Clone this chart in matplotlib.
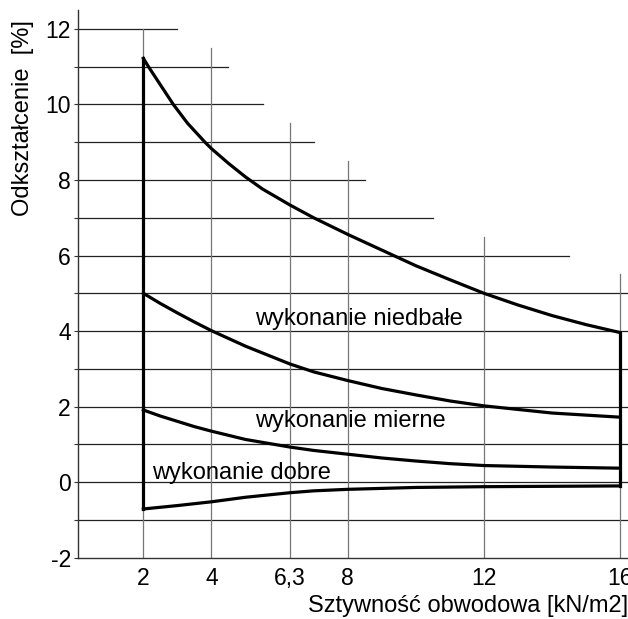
import matplotlib
matplotlib.use('Agg')
import matplotlib.pyplot as plt
import numpy as np

plt.rcParams['font.family'] = ['Liberation Sans', 'DejaVu Sans']
plt.rcParams['axes.unicode_minus'] = False

# stiffness ticks [kN/m2]
x_ticks = [2, 4, 6.3, 8, 12, 16]
x_tick_labels = ['2', '4', '6,3', '8', '12', '16']

# curves (x = stiffness, y = deformation %)
x_top = [2, 2.15, 2.5, 2.88, 3.3, 3.81, 4, 4.5, 5, 5.5, 6.3, 7, 8, 9.3, 10, 11, 12, 13, 14, 15, 16]
y_top = [11.22, 11.0, 10.52, 10.0, 9.5, 9.0, 8.83, 8.44, 8.08, 7.76, 7.34, 7.0, 6.56, 6.02,
         5.73, 5.36, 5.0, 4.69, 4.41, 4.17, 3.96]

x_mid = [2, 2.5, 3, 3.5, 4, 5, 6.3, 7, 8, 9, 10, 11, 12, 14, 16]
y_mid = [5.0, 4.73, 4.48, 4.24, 4.01, 3.6, 3.13, 2.92, 2.69, 2.48, 2.31, 2.15, 2.02, 1.83, 1.72]

x_low = [2, 2.5, 3, 3.5, 4, 5, 6.3, 7, 8, 9, 10, 11, 12, 14, 16]
y_low = [1.91, 1.75, 1.61, 1.47, 1.35, 1.13, 0.93, 0.84, 0.74, 0.64, 0.56, 0.49, 0.44, 0.4, 0.37]

x_bot = [2, 3, 4, 5, 6.3, 7, 8, 10, 12, 16]
y_bot = [-0.71, -0.62, -0.52, -0.4, -0.28, -0.23, -0.19, -0.14, -0.12, -0.1]

# staircase grid: horizontal lines and their right ends, vertical lines and their tops
grid_y = [12, 11, 10, 9, 8, 7, 6, 5, 4, 3, 2, 1, 0, -1]
grid_y_end = [3, 4.5, 5.5, 7, 8.5, 10.5, 14.5, 17, 17, 17, 17, 17, 17, 17]
grid_x = [2, 4, 6.3, 8, 12, 16]
grid_x_top = [12, 11.5, 9.5, 8.5, 6.5, 5.5]

labels = ['wykonanie niedbałe', 'wykonanie mierne', 'wykonanie dobre']
label_x = [5.28, 5.28, 2.25]
label_y = [4.15, 1.45, 0.08]

W, H = 628, 619
fig = plt.figure(figsize=(W / 100, H / 100), dpi=100)
x0, x1 = 0.073, 16.23
ax = fig.add_axes([77.7 / W, 61.3 / H, (W - 77.7) / W, (557.7 - 10) / H])
ax.set_xlim(x0, x1)
ax.set_ylim(-2, 12.5)

# grid
for y, xe in zip(grid_y, grid_y_end):
    ax.plot([x0, xe], [y, y], color='#222222', lw=0.9, zorder=1)
for x, yt in zip(grid_x, grid_x_top):
    ax.plot([x, x], [-2, yt], color='#777777', lw=0.9, zorder=1)

# curves
lw = 2.3
for xs, ys in [(x_top, y_top), (x_mid, y_mid), (x_low, y_low), (x_bot, y_bot)]:
    ax.plot(xs, ys, color='black', lw=lw, zorder=3, solid_joinstyle='round')
# outline
ax.plot([x_top[0], x_bot[0]], [y_top[0], y_bot[0]], color='black', lw=lw, zorder=3,
        solid_capstyle='projecting')
ax.plot([x_top[-1], x_bot[-1]], [y_top[-1], y_bot[-1]], color='black', lw=lw, zorder=3,
        solid_capstyle='projecting')

for t, tx, ty in zip(labels, label_x, label_y):
    ax.text(tx, ty, t, fontsize=17, ha='left', va='baseline', zorder=4)

# axes styling
for s in ['top', 'right']:
    ax.spines[s].set_visible(False)
for s in ['left', 'bottom']:
    ax.spines[s].set_color('#333333')
    ax.spines[s].set_linewidth(1.0)

ax.set_xticks(x_ticks)
ax.set_xticklabels(x_tick_labels, fontsize=16.5)
ax.tick_params(axis='x', length=0, pad=7)
ax.set_yticks(range(-2, 13, 2))
ax.set_yticks(range(-1, 13, 2), minor=True)
ax.tick_params(axis='y', which='both', direction='out', length=3, width=0.8,
               labelsize=16.5, pad=2, color='#333333')

fig.text(1.0, 7 / H, 'Sztywność obwodowa [kN/m2]', fontsize=17, ha='right', va='baseline')
fig.text(23 / W, 1 - 20 / H, 'Odkształcenie  [%]', fontsize=17, rotation=90,
         ha='center', va='top')

plt.savefig('out.png', dpi=100, facecolor='white')
